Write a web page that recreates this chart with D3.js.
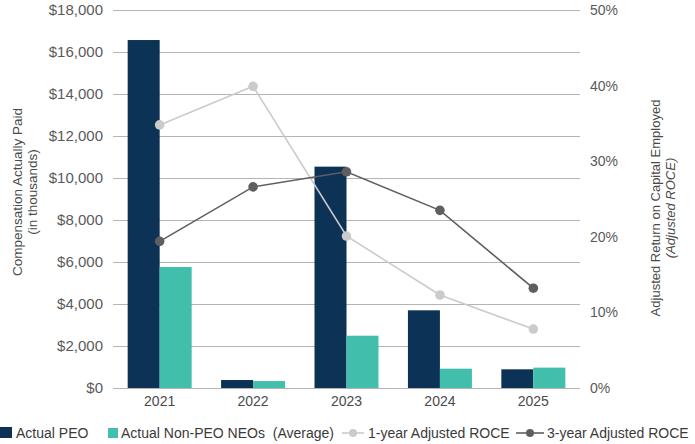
<!DOCTYPE html>
<html>
<head>
<meta charset="utf-8">
<script src="https://cdn.jsdelivr.net/npm/d3@7"></script>
<style>
  body { margin: 0; background: #fff; }
  text { font-family: "Liberation Sans", Arial, sans-serif; }
</style>
</head>
<body>
<div id="chart"></div>
<script>
// data
var years = ["2021", "2022", "2023", "2024", "2025"];
var peo = [16570, 380, 10540, 3700, 890];          // $ thousands
var nonPeo = [5760, 330, 2490, 920, 970];          // $ thousands
var roce1 = [34.8, 39.9, 20.1, 12.3, 7.8];         // %
var roce3 = [19.4, 26.6, 28.6, 23.5, 13.2];        // %
var leftTicks = d3.range(0, 18001, 2000);
var rightTicks = [0, 10, 20, 30, 40, 50];

var width = 695, height = 444;
var plot = { left: 113, right: 580, top: 10, bottom: 388 };

var svg = d3.select('#chart').append('svg')
            .attr('width', width)
            .attr('height', height);

var x = d3.scaleBand().domain(years)
          .range([plot.left, plot.right])
          .paddingInner(0.315).paddingOuter(0.157);
var yL = d3.scaleLinear().domain([0, 18000]).range([plot.bottom, plot.top]);
var yR = d3.scaleLinear().domain([0, 50]).range([plot.bottom, plot.top]);

// gridlines
svg.append('g').selectAll('line')
   .data(leftTicks).enter()
   .append('line')
   .attr('x1', plot.left).attr('x2', plot.right)
   .attr('y1', function(d) { return yL(d) + 0.5; })
   .attr('y2', function(d) { return yL(d) + 0.5; })
   .style('stroke', '#b4b4b4')
   .style('stroke-width', 1);

// left axis
var fmt = d3.format(',');
var gl = svg.append('g')
   .attr('transform', 'translate(' + (plot.left - 10) + ',0)')
   .call(d3.axisLeft(yL).tickValues(leftTicks).tickSize(0).tickPadding(0)
           .tickFormat(function(d) { return '$' + fmt(d); }));
gl.select('.domain').remove();
gl.selectAll('text').style('font-size', '15px').style('fill', '#5a5a5a');

// right axis
var gr = svg.append('g')
   .attr('transform', 'translate(' + (plot.right + 10) + ',0)')
   .call(d3.axisRight(yR).tickValues(rightTicks).tickSize(0).tickPadding(0)
           .tickFormat(function(d) { return d + '%'; }));
gr.select('.domain').remove();
gr.selectAll('text').style('font-size', '14px').style('fill', '#5a5a5a');

// x axis
var gx = svg.append('g')
   .attr('transform', 'translate(0,' + (plot.bottom + 8) + ')')
   .call(d3.axisBottom(x).tickSize(0).tickPadding(0));
gx.select('.domain').remove();
gx.selectAll('text').style('font-size', '14px').style('fill', '#4a4a4a').attr('dy', '0.71em');

// bars
var bw = x.bandwidth() / 2;
svg.append('g').selectAll('rect')
   .data(peo).enter()
   .append('rect')
   .attr('x', function(d, i) { return x(years[i]); })
   .attr('y', function(d) { return yL(d); })
   .attr('width', bw)
   .attr('height', function(d) { return yL(0) - yL(d); })
   .style('fill', '#0c3256');

svg.append('g').selectAll('rect')
   .data(nonPeo).enter()
   .append('rect')
   .attr('x', function(d, i) { return x(years[i]) + bw; })
   .attr('y', function(d) { return yL(d); })
   .attr('width', bw)
   .attr('height', function(d) { return yL(0) - yL(d); })
   .style('fill', '#41bfac');

// lines
var cx = function(d, i) { return x(years[i]) + x.bandwidth() / 2; };
var line = d3.line().x(cx).y(function(d) { return yR(d); });

function drawSeries(data, color) {
  svg.append('path')
     .datum(data)
     .attr('d', line)
     .style('fill', 'none')
     .style('stroke', color)
     .style('stroke-width', 1.6);
  svg.append('g').selectAll('circle')
     .data(data).enter()
     .append('circle')
     .attr('cx', cx)
     .attr('cy', function(d) { return yR(d); })
     .attr('r', 4.8)
     .style('fill', color);
}
drawSeries(roce1, '#cbcbcb');
drawSeries(roce3, '#5f5f5f');

// axis titles
var tl = svg.append('text')
   .attr('transform', 'translate(22,192) rotate(-90)')
   .attr('text-anchor', 'middle')
   .style('font-size', '13.5px').style('fill', '#4a4a4a');
tl.append('tspan').attr('x', 0).attr('dy', 0).text('Compensation Actually Paid');
tl.append('tspan').attr('x', 0).attr('dy', 15).text('(in thousands)');

var tr = svg.append('text')
   .attr('transform', 'translate(660,208) rotate(-90)')
   .attr('text-anchor', 'middle')
   .style('font-size', '13px').style('fill', '#4a4a4a');
tr.append('tspan').attr('x', 0).attr('dy', 0).text('Adjusted Return on Capital Employed');
tr.append('tspan').attr('x', 0).attr('dy', 15).style('font-style', 'italic').text('(Adjusted ROCE)');

// legend
var ly = 433;
var legend = svg.append('g').style('font-size', '14px');
legend.append('rect').attr('x', 0).attr('y', ly - 6).attr('width', 12).attr('height', 11).style('fill', '#0c3256');
legend.append('text').attr('x', 16).attr('y', ly).attr('dy', '0.35em').style('fill', '#3a3a3a').text('Actual PEO');
legend.append('rect').attr('x', 108).attr('y', ly - 5).attr('width', 10).attr('height', 10).style('fill', '#41bfac');
legend.append('text').attr('x', 121).attr('y', ly).attr('dy', '0.35em').style('fill', '#3a3a3a').text('Actual Non-PEO NEOs  (Average)').attr('xml:space', 'preserve');

var lineKeys = [
  { label: '1-year Adjusted ROCE', color: '#cbcbcb', x0: 342, x1: 364, tx: 368 },
  { label: '3-year Adjusted ROCE', color: '#5f5f5f', x0: 516, x1: 544, tx: 547 }
];
lineKeys.forEach(function(k) {
  legend.append('line').attr('x1', k.x0).attr('x2', k.x1).attr('y1', ly).attr('y2', ly)
        .style('stroke', k.color).style('stroke-width', 1.6);
  legend.append('circle').attr('cx', (k.x0 + k.x1) / 2).attr('cy', ly).attr('r', 4).style('fill', k.color);
  legend.append('text').attr('x', k.tx).attr('y', ly).attr('dy', '0.35em').style('fill', '#3a3a3a').text(k.label);
});
</script>
</body>
</html>
